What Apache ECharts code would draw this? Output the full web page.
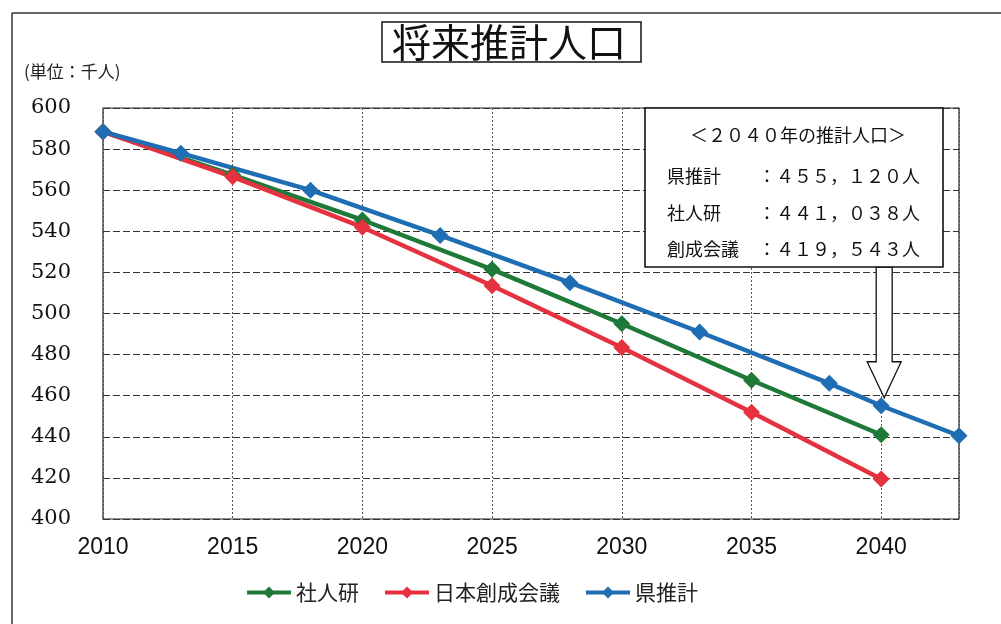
<!DOCTYPE html>
<html><head><meta charset="utf-8">
<script src="https://cdn.jsdelivr.net/npm/echarts@6/dist/echarts.min.js"></script>
<style>html,body{margin:0;padding:0;background:#fff}#c{width:1001px;height:624px}</style>
</head><body><div id="c"></div>
<script>
const titleText = '将来推計人口';
const unitLabel = '(単位：千人)';
const seriesNames = ['社人研', '日本創成会議', '県推計'];
const yearsFive = [2010, 2015, 2020, 2025, 2030, 2035, 2040];
const shajinkenValues = [588.5, 567.5, 545.5, 521.5, 495, 467.5, 441.0];
const sousei = [588.5, 566.5, 542, 513.5, 483.5, 452, 419.5];
const prefYears = [2010, 2013, 2018, 2023, 2028, 2033, 2038, 2040, 2043];
const prefValues = [588.5, 578, 560, 538, 515, 491, 466, 455.1, 440.5];
const boxTitle = '＜２０４０年の推計人口＞';
const boxLabels = ['県推計', '社人研', '創成会議'];
const boxValues = ['：４５５，１２０人', '：４４１，０３８人', '：４１９，５４３人'];
const colors = ['#1f7a3a', '#e5323e', '#1f6db3'];

const chart = echarts.init(document.getElementById('c'));
const zip = (xs, ys) => xs.map((x, i) => [x, ys[i]]);
const mk = (name, data, color) => ({
  name, type: 'line', data, symbol: 'diamond', symbolSize: 17,
  lineStyle: { width: 4.5, color }, itemStyle: { color },
  emphasis: { disabled: true }
});
chart.setOption({
  animation: false,
  backgroundColor: '#fff',
  title: {
    text: titleText, left: 382, top: 22,
    padding: [1, 15, 0, 10], borderColor: '#111', borderWidth: 1.5,
    textStyle: { fontFamily: 'Noto Sans CJK JP', fontSize: 39, fontWeight: 'normal', color: '#111' }
  },
  grid: { left: 103, right: 42, top: 108, bottom: 105, show: true, borderColor: '#222', borderWidth: 1.2 },
  legend: {
    bottom: 16, left: 240, itemWidth: 44, itemHeight: 15, itemGap: 24,
    data: seriesNames,
    lineStyle: { width: 4 },
    textStyle: { fontFamily: 'Noto Sans CJK JP', fontSize: 21, color: '#222' }
  },
  xAxis: {
    type: 'value', min: 2010, max: 2043, interval: 5,
    axisLine: { show: false }, axisTick: { show: false },
    axisLabel: { margin: 17, fontFamily: 'Liberation Sans', fontSize: 23, color: '#111',
      formatter: v => (v % 5 === 0 ? String(v) : '') },
    splitLine: { show: true, lineStyle: { color: '#555', type: [2, 2], width: 1 } }
  },
  yAxis: {
    type: 'value', min: 400, max: 600, interval: 20,
    axisLine: { show: false }, axisTick: { show: false },
    axisLabel: { margin: 32, fontFamily: 'DejaVu Serif', fontSize: 21, color: '#111' },
    splitLine: { show: true, lineStyle: { color: '#333', type: [7, 3], width: 1 } }
  },
  series: [
    mk(seriesNames[0], zip(yearsFive, shajinkenValues), colors[0]),
    mk(seriesNames[1], zip(yearsFive, sousei), colors[1]),
    mk(seriesNames[2], zip(prefYears, prefValues), colors[2])
  ]
});

// annotation box and arrow, anchored to the 2040 prefecture point
const tip = chart.convertToPixel({ gridIndex: 0 }, [2040, prefValues[7]]);
const bx = 645, by = 108, bw = 298, bh = 159;
const ax = tip[0] + 3, ay = tip[1] - 8;
const g = [
  { type: 'line', shape: { x1: 12, y1: 13, x2: 1001, y2: 13 }, style: { stroke: '#333', lineWidth: 1.5 } },
  { type: 'line', shape: { x1: 12, y1: 13, x2: 12, y2: 624 }, style: { stroke: '#333', lineWidth: 1.5 } },
  { type: 'text', left: 24, top: 63, style: { text: unitLabel, fontFamily: 'Noto Sans CJK JP', fontSize: 17, fill: '#222' } },
  { type: 'polygon', z: 10, shape: { points: [
      [ax - 8, by + bh], [ax + 8, by + bh], [ax + 8, ay - 36], [ax + 17, ay - 36],
      [ax, ay], [ax - 17, ay - 36], [ax - 8, ay - 36]] },
    style: { fill: '#fff', stroke: '#111', lineWidth: 1.3 } },
  { type: 'rect', z: 11, shape: { x: bx, y: by, width: bw, height: bh }, style: { fill: '#fff', stroke: '#111', lineWidth: 1.6 } },
  { type: 'text', z: 12, x: bx + bw / 2 + 4, y: 135, style: { text: boxTitle, fontFamily: 'Noto Sans CJK JP', fontSize: 18, fill: '#111', align: 'center', verticalAlign: 'middle' } }
];
const rowsY = [176, 213, 249];
boxLabels.forEach((t, i) => {
  g.push({ type: 'text', z: 12, x: 667, y: rowsY[i], style: { text: t, fontFamily: 'Noto Sans CJK JP', fontSize: 18, fill: '#111', verticalAlign: 'middle' } });
  g.push({ type: 'text', z: 12, x: 758, y: rowsY[i], style: { text: boxValues[i], fontFamily: 'Noto Sans CJK JP', fontSize: 18, fill: '#111', verticalAlign: 'middle' } });
});
chart.setOption({ graphic: g });
</script></body></html>
